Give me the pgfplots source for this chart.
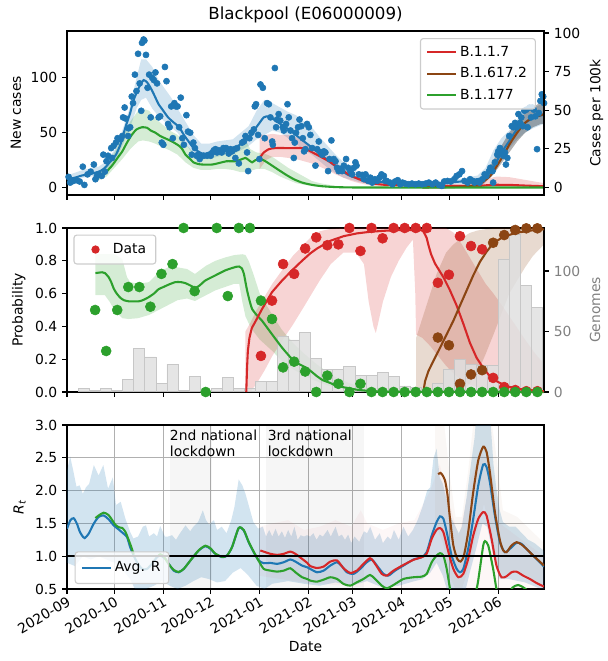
\documentclass[border=0pt]{standalone}
\usepackage{fontspec}
\setmainfont{DejaVu Sans}
\usepackage{pgfplots}
\pgfplotsset{compat=1.18}
\usepgfplotslibrary{fillbetween}
\definecolor{tblue}{HTML}{1F77B4}
\definecolor{tred}{HTML}{D62728}
\definecolor{tgreen}{HTML}{2CA02C}
\definecolor{tbrown}{HTML}{8B4513}
\definecolor{gridc}{HTML}{B0B0B0}
\definecolor{legc}{HTML}{CCCCCC}
\definecolor{tgray}{HTML}{808080}
\pgfplotsset{
  every axis/.append style={
    scale only axis, width=343.44pt, height=118.08pt,
    xmin=0, xmax=302,
    /pgf/number format/assume math mode=true,
    tick align=outside,
    major tick length=3.5pt,
    tick style={black, line width=0.8pt},
    axis line style={line width=0.8pt},
    tick label style={font=\fontsize{10}{12}\selectfont},
    label style={font=\fontsize{10}{12}\selectfont},
    legend style={font=\fontsize{10}{12}\selectfont, draw=legc, rounded corners=2pt, fill=white, fill opacity=0.8, text opacity=1, line width=0.8pt},
    legend cell align=left,
  },
  lineleg/.style={legend image code/.code={\draw[##1, line width=1.5pt] (0pt,0pt) -- (21pt,0pt);}},
}
\begin{document}
\begin{tikzpicture}
\path (0,0) rectangle (432.72pt,475.92pt);

% ---------------- Panel 1 ----------------
\begin{axis}[at={(48.24pt,335.52pt)}, anchor=south west,
  ymin=-6.8, ymax=142.8, ytick={0,50,100},
  xtick={0,30,61,91,122,153,181,212,242,273}, xticklabels={},
  tick pos=left,
  ylabel={New cases},
  title={Blackpool (E06000009)}, title style={font=\fontsize{12}{14}\selectfont, yshift=-3.5pt},
  lineleg,
  legend style={at={(0.983,0.957)}, anchor=north east, row sep=2.6pt, inner xsep=4pt, inner ysep=3.5pt},
  /tikz/every even column/.append style={column sep=8pt},
  ]
\addlegendimage{tred}
\addlegendimage{tbrown}
\addlegendimage{tgreen}
% blue band
\addplot[draw=none, name path=p1bu] coordinates {(0,11)(10,16)(20,19)(25,24)(30,34)(35,52)(40,74)(44,100)(47,117)(50,117)(54,110)(58,98)(62,90)(66,82)(70,72)(75,60)(80,48)(85,40)(90,40)(95,42)(100,43)(105,44)(110,50)(115,56)(120,70)(125,80)(130,77)(135,73)(140,69)(145,66)(150,60)(155,55)(160,46)(165,38)(170,30)(175,23)(180,17)(185,13)(190,10)(195,8)(200,7)(210,5)(230,5)(240,6)(250,8)(260,11)(265,18)(270,34)(275,45)(280,52)(285,62)(290,68)(295,72)(300,76)(302,78)};
\addplot[draw=none, name path=p1bl] coordinates {(0,4)(10,9)(20,11)(25,14)(30,22)(35,38)(40,55)(44,72)(47,80)(50,82)(54,72)(58,65)(62,60)(66,55)(70,50)(75,40)(80,30)(85,26)(90,26)(95,28)(100,30)(105,30)(110,34)(115,38)(120,44)(125,48)(130,52)(135,50)(140,45)(145,40)(150,34)(155,30)(160,24)(165,18)(170,13)(175,9)(180,7)(185,5)(190,3.5)(195,3)(200,2.5)(210,2)(230,2)(240,2.5)(250,3)(260,5)(265,8)(270,18)(275,28)(280,36)(285,44)(290,50)(295,54)(300,57)(302,58)};
\addplot[fill=tblue, fill opacity=0.2, draw=none] fill between[of=p1bu and p1bl];
% green band
\addplot[draw=none, name path=p1gu] coordinates {(18,12)(25,20)(30,32)(35,46)(40,60)(45,70)(48,72)(52,70)(56,63)(60,58)(65,52)(70,48)(75,40)(80,32)(85,28)(90,28)(95,30)(100,32)(105,35)(110,40)(113,44)(116,35)(120,32)(125,31)(130,28)(135,23)(140,18)(145,14)(150,10)(155,6)(160,4)(170,1.5)(180,0.5)(200,0.1)(302,0.05)};
\addplot[draw=none, name path=p1gl] coordinates {(18,5)(25,10)(30,18)(35,26)(40,35)(45,42)(48,43)(52,42)(56,40)(60,37)(65,34)(70,30)(75,23)(80,18)(85,16)(90,16)(95,17)(100,17)(105,16)(110,14)(113,14)(116,15)(120,17)(125,17)(130,14)(135,10)(140,7)(145,4)(150,2.5)(155,1.5)(160,1)(170,0.2)(180,0)(200,0)(302,0)};
\addplot[fill=tgreen, fill opacity=0.2, draw=none] fill between[of=p1gu and p1gl];
% red band
\addplot[draw=none, name path=p1ru] coordinates {(122,48)(126,48)(130,49)(135,48)(140,48)(145,46)(150,42)(155,38)(160,33)(165,28)(170,23)(175,17)(180,13)(185,9)(190,6)(195,4.5)(200,3.5)(210,3)(250,3)(260,5)(266,8)(272,10)(280,9.5)(290,7)(302,4)};
\addplot[draw=none, name path=p1rl] coordinates {(122,17)(126,25)(130,28)(135,28)(140,27)(145,26)(150,24)(155,22)(160,19)(165,16)(170,12)(175,9)(180,6)(185,4)(190,2.5)(195,1.5)(200,1)(210,0.5)(250,0.3)(260,0.3)(266,0.5)(272,0.8)(280,0.8)(290,0.5)(302,0.3)};
\addplot[fill=tred, fill opacity=0.2, draw=none] fill between[of=p1ru and p1rl];
% brown (gray) band
\addplot[draw=none, name path=p1wu] coordinates {(262,5)(265,12)(270,25)(275,38)(280,50)(285,60)(290,68)(295,73)(300,78)(302,80)};
\addplot[draw=none, name path=p1wl] coordinates {(262,1)(265,5)(270,12)(275,22)(280,32)(285,42)(290,50)(295,55)(300,58)(302,58)};
\addplot[fill=black, fill opacity=0.3, draw=none] fill between[of=p1wu and p1wl];
% daily cases
\addplot[only marks, mark=*, mark size=2.2pt, tblue, mark options={draw=none, fill=tblue}] table {
x y
1 9.7
2 4.5
4 6
6 6.7
8 5.5
10 19
11 2.4
13 12
15 14.5
17 21
18 7.6
19 10.6
20 12
22 10.6
23 30
24 14.5
25 24
26 29
28 36
28.5 27
29.5 38
31 41
32 45
34 44
35 47
35.5 64
36.5 73
37 63
38.7 47
39 54
40 55
41 83
41.8 77
43 103
44 88
45 122
46 95
47 70
47.5 132
48.5 135
49 134
50 121
51 91
52 103
53 64
54 100
55 98
56 105
57 95
58 64
59 65
60 41
61 39
62 110
63 97
64 58
65 55
66 74
67 45
68 77
69 74
70 74
71 55
72 82
73 45
74 39
75.6 66
76.6 51
78 50
79 30
80 41
81 36
82 29
83 30
84 26
85 29
86.5 29
88.7 29
91 29
92 32
93 34
94 35
95 32
96 34
98 32
99 36
100 35
100.7 36
102.4 31
103.5 35
104.5 33
106 35
106.6 27
107.7 36
108.8 22
110.9 41
112 42
113 47
114 32
114.7 15
115.5 45
116.8 50
118.3 53
118.9 74
119.7 76
121 48
121.8 26
122.5 94
124 91
125.2 45
126.7 77
127.8 76
128.8 64
129.9 42
130.3 39
131.6 109
132.4 55
133 62
134 67
135 61
136.6 55
137.3 52
138.7 58
139.6 76
140.4 64
141.5 52
142.5 45
143.6 27
144.2 41
145 50
146.3 55
147.2 62
148.4 56
149.3 45
150.1 33
151 35
152 58
153.1 55
154.1 48
155.2 36
157.3 20
158.4 35
159.4 42
160.5 32
161.5 30
162.6 33
163.6 32
165.3 15
166.2 26
167.4 43
168.9 26
170 24
171 18
172 15
173.1 17
174.2 15
175.3 20
176.7 26
178 18
179.5 14.5
180.5 12
181.6 18
182.6 23
183.3 20
184.8 12
186.9 11.5
188 7.6
189 12
190.7 6
192.1 9
193.2 4.5
194.9 7.6
196.4 6
197.8 9
199.1 12
200.6 10.6
201.6 6
202.4 6
204.5 4.5
206 3
207.7 5.5
209.4 6.7
211 3
212.4 4.5
214.1 3.6
216.3 3
218.4 3.6
220.6 3
222.7 3.6
224.8 3
227 3.6
229.1 4.5
231.3 3
233.4 4.5
235.5 2.4
237.3 1.5
238.8 5.5
240.9 6
243 5.5
245.2 7.6
246.7 10.6
248.4 12
250.1 15
251.6 6
253.7 4.5
255.2 7.6
257 6
258 4.5
259.5 5.5
261.2 4.5
263 7.6
264.4 12
265.5 10.6
267.2 15
268 18
269.4 15
269.8 4.5
270.9 23
272.4 30
273 33
274.1 36
275.1 33
276.2 29
277.3 32
277.9 21
278.8 27
280 47
281.6 56
282.6 55
283.7 59
284.8 55
285.8 67
286.9 59
287.6 64
288.6 56
289.5 70
290.8 71
291.6 55
292.9 73
293.8 64
294.6 73
295.5 71
296.5 65
297.6 35
298.7 68
299.7 79
300.6 85
301.5 83
302 77
};
% lines
\addplot[tblue, line width=1.5pt, smooth, tension=0.4] coordinates {(0,7.6)(5,9)(9.5,11)(14,12)(18,13.6)(21,15)(24,18)(27,23)(31,30)(34,40)(37,55)(40,68)(42,79)(44.5,88)(46.5,94)(48.5,98)(50.7,96)(52.5,92)(54,88)(56,82)(58,76)(61,70)(64,64)(67,60)(71,55)(74,48)(77,42)(79,38)(81,35)(83,33)(85.5,31)(88,31)(90,32)(93,33)(96,35)(98.2,34)(101,34)(104.5,33)(107,36)(110.9,41)(114,45)(117.2,50)(121.4,58)(124.6,64)(127.8,65)(131,62)(135.1,58)(140.4,53)(145.7,47)(151,41)(156.3,35)(161.5,29)(166.8,23)(172.1,17)(177.4,12)(182.6,9)(189,7)(195.3,5.5)(202,4.5)(212,3)(231,3)(242,4.5)(252.7,6)(258,7)(263.4,9)(266,11)(268.7,15)(271,21)(274,29)(276.5,35)(279.4,41)(282,47)(284.8,53)(287.5,56.5)(290.1,59)(295.5,64)(300.8,66)(302,67)};
\addplot[tred, line width=1.5pt, smooth, tension=0.4] coordinates {(122,26)(123,29)(124.6,32)(127.8,35)(132,36)(140.4,36)(148.9,36)(151.5,35)(154.1,33)(159.4,29)(165.7,24)(172.1,18)(178.4,12)(184.8,7.6)(191.1,4.5)(197.4,3)(202.7,2.4)(220,1.8)(240,1.5)(260,1.5)(265,2)(270,2.5)(280,2.4)(290,1.8)(302,1.2)};
\addplot[tbrown, line width=1.5pt, smooth, tension=0.4] coordinates {(225,0)(240,0.3)(250,0.8)(258,2)(262,4)(265,7)(268,10.6)(271,17)(274,24)(277,31)(280,39)(285,50)(290,59)(295,64)(300,66)(302,67)};
\addplot[tgreen, line width=1.5pt, smooth, tension=0.4] coordinates {(18,9)(21,10.5)(24,13)(28.5,20)(32,27)(35,33)(38,41)(41,48)(44,53)(47.5,55)(50.7,54.5)(53,52)(56,50)(59,47)(62,45)(66.5,42)(71,38)(73,35)(75,30)(78,26)(80,23)(83,21.5)(85.5,21)(92,21)(98,23)(101,24)(106.6,24)(110,25.5)(113,27)(115.1,25)(117.2,23)(119.3,25)(122.5,26)(125.6,24)(128.8,21)(133,17)(138.3,12)(143.6,7.6)(148.9,4.5)(155.2,2.4)(161.5,1.2)(170,0.4)(180,0.1)(190,0)(302,0)};
\legend{B.1.1.7,B.1.617.2,B.1.177}
\end{axis}
\begin{axis}[at={(48.24pt,335.52pt)}, anchor=south west,
  axis x line=none, axis y line*=right,
  ymin=-4.82, ymax=101.28, ytick={0,25,50,75,100},
  ylabel={Cases per 100k},
  ]
\addplot[draw=none] coordinates {(0,0)};
\end{axis}

% ---------------- Panel 2 ----------------
\begin{axis}[at={(48.24pt,193.68pt)}, anchor=south west,
  axis x line=none, axis y line*=right,
  ymin=0, ymax=135.6, ytick={0,50,100},
  yticklabel style={tgray}, ylabel={Genomes}, ylabel style={tgray},
  ]
\addplot[ybar, bar width=7, fill=black!12, draw=black!22, line width=0.6pt, fill opacity=0.85] coordinates {
(10.8,2.8)(17.8,1)(24.8,3.3)(31.8,1)(38.8,10)(45.8,36)(52.8,29)(59.8,7)(66.8,23)(73.8,1)(80.8,13)(87.8,0.5)(94.8,3)(101.8,12)(108.8,3)(115.8,3)(122.8,9)(129.8,9)(136.8,46)(143.8,43)(150.8,49)(157.8,28)(164.8,19)(171.8,19)(178.8,21)(185.8,14)(192.8,14)(199.8,16)(206.8,13)(213.8,5)(220.8,4)(227.8,1)(234.8,7)(241.8,19)(248.8,27)(255.8,23)(262.8,22)(269.8,22)(276.8,110)(283.8,130)(290.8,88)(297.8,70)};
\end{axis}
\begin{axis}[at={(48.24pt,193.68pt)}, anchor=south west,
  ymin=0, ymax=1, ytick={0,0.2,0.4,0.6,0.8,1.0},
  yticklabel style={/pgf/number format/.cd, fixed, fixed zerofill, precision=1},
  xtick={0,30,61,91,122,153,181,212,242,273}, xticklabels={},
  tick pos=left, clip=false,
  ylabel={Probability},
  legend image code/.code={\path[draw=none, fill=none] (0pt,0pt) -- (21pt,0pt); \path[draw=none, fill=tred, fill opacity=1, opacity=1] (10.5pt,0pt) circle (3pt);},
  legend style={at={(0.0135,0.96)}, anchor=north west, inner xsep=5pt, inner ysep=4pt},
  /tikz/every even column/.append style={column sep=9pt},
  ]
\addlegendimage{draw=none}
% green band
\addplot[draw=none, name path=p2gu] coordinates {(18,0.84)(24,0.84)(30,0.84)(35,0.81)(38,0.70)(40,0.67)(45,0.66)(52,0.67)(58,0.73)(64,0.76)(70,0.76)(76,0.75)(81,0.72)(88,0.77)(94,0.80)(100,0.82)(106,0.835)(111,0.84)(113,0.835)(115,0.80)(118,0.72)(122,0.60)(130,0.47)(136,0.38)(143,0.30)(150,0.235)(158,0.17)(165,0.12)(172,0.08)(180,0.05)(190,0.025)(200,0.01)(215,0.003)};
\addplot[draw=none, name path=p2gl] coordinates {(18,0.59)(24,0.59)(27,0.55)(30,0.50)(35,0.45)(39,0.445)(45,0.45)(52,0.47)(58,0.50)(64,0.53)(70,0.56)(76,0.57)(81,0.555)(88,0.59)(94,0.62)(100,0.64)(106,0.66)(109,0.66)(111,0.55)(113,0.46)(116,0.40)(118,0.37)(122,0.32)(130,0.25)(136,0.19)(143,0.14)(150,0.10)(158,0.065)(165,0.04)(172,0.025)(180,0.01)(190,0.003)(200,0)(215,0)};
\addplot[fill=tgreen, fill opacity=0.2, draw=none] fill between[of=p2gu and p2gl];
% red band
\addplot[draw=none, name path=p2ru] coordinates {(113,0.37)(116,0.42)(120,0.50)(125,0.58)(130,0.66)(136,0.74)(143,0.83)(150,0.90)(155,0.95)(160,0.98)(167,0.995)(175,1)(240,1)(245,0.97)(250,0.9)(255,0.82)(260,0.74)(265,0.66)(270,0.6)(276,0.52)(283,0.42)(290,0.32)(296,0.24)(302,0.17)};
\addplot[draw=none, name path=p2rl] coordinates {(113,0)(116,0)(120,0.05)(125,0.13)(130,0.22)(136,0.31)(143,0.41)(150,0.52)(155,0.60)(160,0.68)(167,0.78)(175,0.85)(183,0.85)(188,0.78)(191,0.55)(194,0.40)(195.5,0.36)(197,0.42)(200,0.55)(205,0.70)(210,0.80)(215,0.88)(219,0.93)(220.5,0.6)(221,0.35)(225,0.33)(230,0.28)(235,0.22)(240,0.16)(245,0.11)(250,0.07)(255,0.045)(260,0.03)(265,0.02)(270,0.01)(302,0.0)};
\addplot[fill=tred, fill opacity=0.2, draw=none] fill between[of=p2ru and p2rl];
% brown band
\addplot[draw=none, name path=p2wu] coordinates {(221,0.33)(225,0.45)(230,0.6)(234,0.72)(240,0.85)(244.6,0.9)(250,0.94)(255,0.97)(260,0.985)(270,1.0)(302,1.0)};
\addplot[draw=none, name path=p2wl] coordinates {(221,0)(250,0)(255,0.05)(260,0.12)(265,0.23)(270,0.35)(276,0.5)(280,0.6)(285,0.68)(290,0.76)(295,0.83)(302,0.9)};
\addplot[fill=tbrown, fill opacity=0.2, draw=none] fill between[of=p2wu and p2wl];
% lines
\addplot[tgreen, line width=1.5pt, smooth, tension=0.3] coordinates {(18,0.725)(22.2,0.73)(24,0.725)(26.4,0.70)(28,0.67)(29.6,0.63)(31.5,0.60)(33.8,0.574)(36,0.56)(39,0.553)(45.4,0.553)(48,0.56)(51.7,0.578)(55,0.60)(58,0.627)(61,0.64)(64.4,0.655)(68.6,0.67)(72,0.67)(74.9,0.664)(78,0.65)(81.3,0.635)(84,0.65)(87.6,0.68)(93.9,0.711)(100.3,0.742)(106.6,0.762)(109,0.765)(110.8,0.752)(112,0.72)(113,0.67)(114,0.62)(115.5,0.56)(117.2,0.506)(120,0.47)(123.5,0.434)(129.8,0.352)(136.2,0.27)(142.5,0.2)(145,0.18)(150,0.155)(154,0.13)(158.3,0.096)(162,0.072)(166.7,0.055)(170,0.04)(175.1,0.029)(183.5,0.014)(192,0.006)(200,0.003)(215,0.001)(302,0)};
\addplot[tred, line width=1.5pt] coordinates {(113.5,0)(114,0.15)(114.5,0.25)(115.5,0.33)(117,0.39)(119.3,0.43)(123.5,0.506)(129.8,0.609)(136.2,0.68)(142.5,0.742)(148.8,0.80)(154,0.845)(158.3,0.875)(166.7,0.922)(175.1,0.95)(183.5,0.967)(192,0.977)(202.5,0.984)(213,0.988)(224,0.988)(225.5,0.98)(226.7,0.96)(227.7,0.94)(229,0.89)(230.5,0.84)(233,0.783)(238.3,0.70)(242.5,0.619)(246.7,0.527)(251,0.414)(255.1,0.30)(259.3,0.209)(263.5,0.147)(267.7,0.096)(271.9,0.066)(278.3,0.035)(286.7,0.018)(297.2,0.008)(302,0.004)};
\addplot[tbrown, line width=1.5pt] coordinates {(225.6,0)(226.7,0.066)(228.8,0.127)(232,0.19)(236.2,0.27)(240.4,0.352)(244.6,0.434)(248.8,0.527)(253,0.619)(257.2,0.711)(261.4,0.793)(265.6,0.855)(269.8,0.906)(276.2,0.947)(284.6,0.971)(293,0.984)(302,0.992)};
% dots
\addplot[only marks, mark=*, mark size=3.6pt, tred, mark options={draw=none, fill=tred}] coordinates {(122.8,0.22)(129.8,0.557)(136.8,0.78)(143.8,0.72)(150.8,0.875)(157.8,0.943)(164.8,0.895)(171.8,0.90)(178.8,1.0)(185.8,0.86)(192.8,1.0)(199.8,0.937)(206.8,1.0)(213.8,1.0)(220.8,1.0)(227.8,1.0)(234.8,0.666)(241.8,0.715)(248.8,0.95)(255.8,0.89)(262.8,0.87)(269.8,0.086)(276.8,0.03)(283.8,0.012)(290.8,0.005)(297.8,0.005)};
\addplot[only marks, mark=*, mark size=3.6pt, tbrown, mark options={draw=none, fill=tbrown}] coordinates {(234.8,0.332)(241.8,0.285)(248.8,0.05)(255.8,0.107)(262.8,0.133)(269.8,0.91)(276.8,0.957)(283.8,0.988)(290.8,0.998)(297.8,0.998)};
\addplot[only marks, mark=*, mark size=3.6pt, tgreen, mark options={draw=none, fill=tgreen}] coordinates {(17.8,0.50)(24.8,0.25)(31.8,0.50)(38.8,0.64)(45.8,0.64)(52.8,0.52)(59.8,0.72)(66.8,0.78)(73.8,1.0)(80.8,0.615)(87.8,0.0)(94.8,1.0)(101.8,0.585)(108.8,1.0)(115.8,1.0)(122.8,0.557)(129.8,0.445)(136.8,0.15)(143.8,0.185)(150.8,0.125)(157.8,0)(164.8,0.10)(171.8,0.05)(178.8,0)(185.8,0.05)(192.8,0)(199.8,0)(206.8,0)(213.8,0)(220.8,0)(227.8,0)(234.8,0)(241.8,0)(248.8,0)(255.8,0)(262.8,0)(269.8,0)(276.8,0)(283.8,0)(290.8,0)(297.8,0)};
\legend{Data}
\end{axis}

% ---------------- Panel 3 ----------------
\begin{axis}[at={(48.24pt,51.84pt)}, anchor=south west,
  ymin=0.5, ymax=3, ytick={0.5,1.0,1.5,2.0,2.5,3.0},
  yticklabel style={/pgf/number format/.cd, fixed, fixed zerofill, precision=1},
  xtick={0,30,61,91,122,153,181,212,242,273},
  xticklabels={2020-09,2020-10,2020-11,2020-12,2021-01,2021-02,2021-03,2021-04,2021-05,2021-06},
  xticklabel style={rotate=30, anchor=north east, inner sep=1pt},
  tick pos=left,
  grid=major, grid style={gridc, line width=0.8pt},
  xlabel={Date}, ylabel={{\itshape R}\textsubscript{\itshape t}},
  lineleg,
  legend style={at={(0.016,0.03)}, anchor=south west, inner xsep=4pt, inner ysep=5pt},
  /tikz/every even column/.append style={column sep=8pt},
  ]
\addlegendimage{tblue}
% lockdowns
\addplot[fill=black, fill opacity=0.035, draw=none] coordinates {(65,0.5)(65,3)(92,3)(92,0.5)} -- cycle;
\addplot[fill=black, fill opacity=0.035, draw=none] coordinates {(126,0.5)(126,3)(188,3)(188,0.5)} -- cycle;
% blue band
\addplot[draw=none, name path=p3bu] coordinates {(0,2.3)(2,2.52)(4,2.3)(6,2.06)(8,2.08)(10,1.95)(12,2.05)(14,2.1)(17,2.39)(20,2.23)(23,2.39)(26,2.03)(29,2.2)(31,1.78)(34,1.83)(37,1.57)(40,1.37)(42,1.27)(45,1.3)(48,1.45)(50,1.47)(52,1.3)(55,1.35)(57,1.3)(59,1.46)(62,1.3)(64,1.3)(66.5,1.32)(69,1.25)(71,1.33)(75,1.47)(78,1.38)(80,1.45)(83,1.52)(86,1.7)(88,1.55)(90,1.48)(93,1.55)(95,1.4)(98,1.45)(101,1.35)(104,1.55)(106,1.75)(108.7,2.17)(111,2.08)(113,1.95)(115,1.78)(118,1.52)(121,1.42)(124,1.45)(126,1.3)(128,1.4)(130,1.3)(132,1.42)(134,1.3)(136,1.38)(138,1.28)(140,1.4)(142,1.3)(144,1.45)(146,1.25)(148,1.32)(150,1.3)(152,1.32)(154,1.3)(156,1.35)(158,1.25)(160,1.33)(162,1.3)(165,1.4)(167,1.3)(170,1.45)(172,1.3)(174,1.33)(176,1.25)(178,1.33)(180,1.2)(182,1.3)(185,1.22)(188,1.38)(190,1.35)(192,1.45)(195,1.25)(198,1.35)(200,1.2)(203,1.3)(205,1.25)(207,1.4)(210,1.25)(213,1.45)(216,1.3)(219,1.4)(222,1.55)(225,1.75)(228,2.0)(230,2.05)(232,2.49)(234,2.64)(236,2.2)(238,2.1)(240,1.9)(243,1.6)(246,1.45)(248,1.35)(250,1.45)(253,1.9)(256,2.45)(258,2.8)(259,3.1)(268,3.1)(270,2.4)(272,2.0)(274,1.7)(276,1.52)(280,1.45)(284,1.45)(288,1.35)(292,1.25)(296,1.2)(302,1.08)};
\addplot[draw=none, name path=p3bl] coordinates {(0,0.9)(5,0.85)(10,1.0)(15,0.95)(20,1.0)(25,0.95)(30,0.9)(35,0.8)(40,0.65)(43,0.5)(46,0.45)(50,0.5)(55,0.55)(60,0.62)(65,0.55)(70,0.5)(75,0.55)(80,0.62)(85,0.68)(90,0.65)(95,0.6)(100,0.62)(105,0.75)(110,0.82)(115,0.7)(120,0.55)(125,0.5)(130,0.58)(140,0.62)(150,0.58)(160,0.55)(170,0.6)(180,0.55)(190,0.62)(200,0.52)(210,0.55)(220,0.62)(225,0.65)(230,0.75)(234,0.9)(238,0.7)(241,0.45)(252,0.45)(255,0.75)(259,1.11)(263,1.5)(266,1.45)(270,1.0)(274,0.65)(280,0.65)(290,0.6)(300,0.5)(302,0.45)};
\addplot[fill=tblue, fill opacity=0.2, draw=none] fill between[of=p3bu and p3bl];
% faint red band
\addplot[draw=none, name path=p3ru] coordinates {(122,1.45)(130,1.5)(140,1.55)(150,1.4)(160,1.45)(170,1.55)(180,1.45)(186,1.7)(190,1.5)(200,1.4)(210,1.5)(220,1.55)(230,2.0)(236,2.4)(240,2.0)(248,1.3)(256,2.2)(262,2.6)(268,2.4)(274,1.5)(285,1.3)(302,1.0)};
\addplot[draw=none, name path=p3rl] coordinates {(122,0.7)(150,0.6)(200,0.5)(302,0.3)};
\addplot[fill=tred, fill opacity=0.04, draw=none] fill between[of=p3ru and p3rl];
% faint brown band
\addplot[draw=none, name path=p3wu] coordinates {(233,3.2)(238,3.2)(242,2.3)(246,1.6)(250,1.6)(254,2.3)(258,3.2)(268,3.2)(272,2.5)(276,1.7)(285,1.6)(302,1.2)};
\addplot[draw=none, name path=p3wl] coordinates {(233,1.5)(238,1.2)(242,0.7)(246,0.5)(250,0.5)(254,0.8)(258,1.2)(264,1.8)(268,1.4)(272,0.9)(276,0.7)(285,0.8)(302,0.5)};
\addplot[fill=tbrown, fill opacity=0.045, draw=none] fill between[of=p3wu and p3wl];
% lines
\addplot[tblue, line width=1.5pt, smooth, tension=0.4] coordinates {(0,1.418)(2.1,1.546)(4.2,1.58)(6.3,1.495)(8,1.38)(9.5,1.316)(11.2,1.276)(13.7,1.342)(16.9,1.495)(20,1.597)(23.2,1.622)(26.4,1.561)(29.6,1.469)(32.7,1.408)(35.9,1.342)(38,1.291)(40,1.138)(42.2,1.01)(44.3,0.908)(47.5,0.806)(50.7,0.806)(53.8,0.883)(57,0.985)(59.1,1.01)(62.3,0.96)(64.4,0.883)(67.6,0.78)(70.7,0.755)(73.9,0.806)(78.1,0.934)(83.4,1.087)(87.6,1.153)(90.8,1.112)(93.9,1.036)(98.2,0.985)(101.3,1.01)(104.5,1.138)(108.7,1.429)(111.9,1.393)(115,1.214)(118.2,1.061)(121.4,0.934)(124.6,0.893)(128.8,0.898)(133,0.883)(137.2,0.908)(141.4,0.95)(144.6,0.918)(148.8,0.857)(152,0.832)(154,0.806)(158.3,0.755)(162.5,0.78)(166.7,0.857)(171,0.908)(174,0.847)(177.2,0.755)(181.4,0.73)(185.6,0.806)(189.8,0.908)(193,0.949)(196.2,0.857)(200.4,0.73)(203.5,0.704)(207.7,0.78)(213,0.857)(219.3,0.949)(224.6,0.985)(227.7,1.061)(230.9,1.316)(234,1.52)(236.2,1.607)(238.3,1.571)(240.4,1.367)(243.5,1.01)(246.7,0.806)(248.8,0.755)(250.9,0.806)(254,1.112)(257.2,1.571)(260.4,2.082)(263.5,2.398)(265.6,2.362)(267.7,2.133)(270.9,1.622)(274.1,1.214)(277.2,1.061)(280.4,1.112)(284.6,1.204)(287.7,1.189)(290.9,1.112)(295.1,1.01)(299.3,0.908)(302,0.842)};
\addplot[tgreen, line width=1.5pt, smooth, tension=0.4] coordinates {(18,1.58)(20,1.62)(23.2,1.663)(26.4,1.625)(30.6,1.48)(33,1.44)(35,1.43)(37,1.37)(39,1.25)(41,1.12)(42.2,1.03)};
\addplot[tgreen, line width=1.5pt, opacity=0.12, smooth, tension=0.4] coordinates {(42.2,1.03)(44,0.93)(47,0.82)(50,0.8)(53,0.87)(56,0.97)(58,1.01)};
\addplot[tgreen, line width=1.5pt, smooth, tension=0.4] coordinates {(58,1.01)(59.1,1.03)(61,1.0)(62.3,0.96)(64.4,0.88)(67.6,0.79)(70.7,0.76)(73.9,0.806)(78.1,0.934)(83.4,1.09)(87.6,1.16)(90.8,1.12)(93.9,1.04)(98.2,0.99)(101.3,1.01)(104.5,1.14)(108.7,1.43)(111.9,1.40)(115,1.22)(118.2,1.07)(121.8,0.91)(124.6,0.806)(128.8,0.78)(133,0.765)(137.2,0.78)(141.4,0.816)(144.6,0.755)(148.8,0.68)(152,0.653)(154,0.628)(158.3,0.612)(162.5,0.643)(166.7,0.679)(171,0.653)(175.1,0.577)(179.3,0.551)(183.5,0.602)(187.7,0.653)(191.9,0.714)(195.1,0.653)(199.3,0.551)(202.5,0.51)(206.7,0.561)(213,0.653)(219.3,0.679)(224.6,0.689)(227.7,0.73)(230.9,0.908)(234,1.01)(236.2,1.046)(238.3,1.01)(240.4,0.806)(242.5,0.5)(244,0.3)(247,0.1)(250,0.15)(255,0.3)(259.3,0.5)(261.4,0.806)(263.5,1.163)(264.6,1.23)(266.7,1.163)(269.8,0.806)(271.9,0.5)(274,0.3)(278,0.35)(282,0.52)(285.6,0.561)(288.8,0.526)(292,0.47)(296,0.4)(302,0.3)};
\addplot[tred, line width=1.5pt, smooth, tension=0.4] coordinates {(122.4,1.087)(125.6,1.061)(128.8,1.036)(133,1.02)(137.2,1.036)(141.4,1.07)(144.6,1.036)(148.8,0.96)(152,0.90)(154,0.85)(158.3,0.82)(162.5,0.842)(166.7,0.918)(171,0.934)(175.1,0.816)(179.3,0.745)(183.5,0.78)(187.7,0.883)(191.9,0.969)(195.1,0.883)(199.3,0.73)(202.5,0.704)(206.7,0.78)(213,0.867)(219.3,0.944)(224.6,0.985)(227.7,1.036)(230.9,1.265)(234,1.403)(236.2,1.429)(238.3,1.367)(241.5,1.061)(244.6,0.806)(247.8,0.679)(250.9,0.73)(254,0.959)(257.2,1.316)(260.4,1.571)(263.5,1.673)(265.6,1.622)(268.8,1.265)(271.9,0.857)(275.1,0.679)(278.3,0.694)(281.4,0.755)(284.6,0.765)(288.8,0.704)(293,0.653)(297.2,0.592)(302,0.536)};
\addplot[tbrown, line width=1.5pt, smooth, tension=0.4] coordinates {(235,2.25)(236.5,2.27)(237.5,2.245)(239.3,2.158)(240.8,1.954)(242.5,1.571)(244.6,1.163)(247.1,0.959)(249.2,0.918)(251.3,1.01)(254,1.367)(257.2,1.98)(260.4,2.464)(263.5,2.668)(265.6,2.592)(267.7,2.286)(270.9,1.673)(274.1,1.24)(276.2,1.087)(278.3,1.061)(281.4,1.163)(284.6,1.214)(287.7,1.179)(290.9,1.112)(295.1,1.01)(299.3,0.918)(302,0.857)};
\addplot[black, line width=1.6pt] coordinates {(0,1)(302,1)};
\node[anchor=north west, align=left, inner sep=0pt, font=\fontsize{10}{11.5}\selectfont] at (axis cs:65,2.93) {2nd national\\lockdown};
\node[anchor=north west, align=left, inner sep=0pt, font=\fontsize{10}{11.5}\selectfont] at (axis cs:127,2.93) {3rd national\\lockdown};
\legend{Avg. R}
\end{axis}
\end{tikzpicture}
\end{document}
